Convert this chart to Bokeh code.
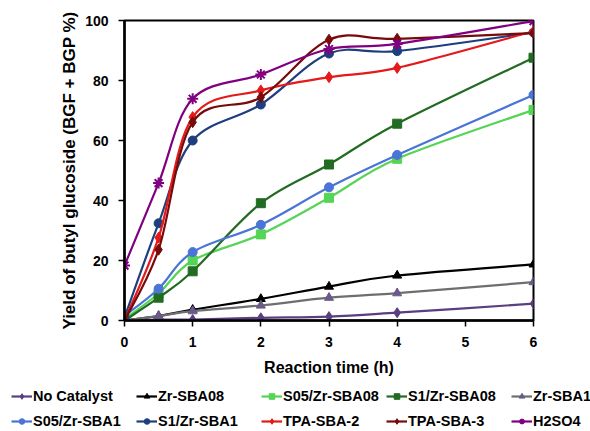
import numpy as np
from bokeh.plotting import figure
from bokeh.layouts import column
from bokeh.models import Range1d, Legend, LegendItem, ColumnDataSource, FixedTicker
from bokeh.embed import file_html
from bokeh.resources import INLINE

time_h = [0, 0.5, 1, 2, 3, 4, 6]

no_catalyst = [0, 0.3, 0.3, 0.9, 1.3, 2.6, 5.6]
zr_sba08 = [0, 1.5, 3.6, 7.2, 11.3, 15.0, 18.7]
s05_zr_sba08 = [0.5, 9.0, 20.0, 28.7, 40.9, 53.9, 70.2]
s1_zr_sba08 = [0, 7.6, 16.4, 39.1, 52.0, 65.6, 87.6]
zr_sba1 = [0, 1.5, 3.1, 5.0, 7.6, 9.1, 12.8]
s05_zr_sba1 = [1.5, 10.6, 22.8, 31.9, 44.4, 55.2, 75.2]
s1_zr_sba1 = [1.0, 32.4, 60.0, 72.0, 89.0, 89.8, 96.0]
tpa_sba2 = [0, 27.6, 67.8, 76.7, 81.1, 84.2, 96.4]
tpa_sba3 = [0, 23.6, 66.1, 74.4, 93.6, 93.9, 95.8]
h2so4 = [18.3, 45.8, 73.9, 82.0, 90.5, 92.2, 99.8]

x_ticks = [0, 1, 2, 3, 4, 5, 6]
y_ticks = [0, 20, 40, 60, 80, 100]

series = [
    ("No Catalyst", no_catalyst, "#5a3f80", "#5a3f80", "diamond", 10),
    ("Zr-SBA08", zr_sba08, "#000000", "#000000", "triangle", 9),
    ("S05/Zr-SBA08", s05_zr_sba08, "#55d455", "#55d455", "square", 9),
    ("S1/Zr-SBA08", s1_zr_sba08, "#226b22", "#226b22", "square", 9),
    ("Zr-SBA1", zr_sba1, "#6e6e6e", "#6a5a88", "triangle", 9),
    ("S05/Zr-SBA1", s05_zr_sba1, "#4a74d6", "#4a74d6", "circle", 9),
    ("S1/Zr-SBA1", s1_zr_sba1, "#1f3e7e", "#1f3e7e", "circle", 9),
    ("TPA-SBA-2", tpa_sba2, "#e41a1a", "#e41a1a", "diamond", 11),
    ("TPA-SBA-3", tpa_sba3, "#780a0a", "#780a0a", "diamond", 11),
    ("H2SO4", h2so4, "#800080", "#800080", "asterisk", 11),
]
legend_rows = [["No Catalyst", "Zr-SBA08", "S05/Zr-SBA08", "S1/Zr-SBA08", "Zr-SBA1"],
               ["S05/Zr-SBA1", "S1/Zr-SBA1", "TPA-SBA-2", "TPA-SBA-3", "H2SO4"]]

W = 590
H_MAIN = 386
H_LEG = 45
FONT = "Liberation Sans"

p = figure(width=W, height=H_MAIN, output_backend="svg", toolbar_location=None,
           x_range=Range1d(0, 6), y_range=Range1d(0, 100),
           min_border_left=124, min_border_right=57, min_border_top=20, min_border_bottom=66)
p.frame_align = False
p.xgrid.visible = False
p.ygrid.visible = False
p.outline_line_color = "black"
p.outline_line_width = 2
p.outline_line_alpha = 1
p.background_fill_color = "white"
p.border_fill_color = "white"

for ax in (p.xaxis[0], p.yaxis[0]):
    ax.axis_line_color = "black"
    ax.axis_line_width = 2.5
    ax.major_tick_line_color = "black"
    ax.major_tick_line_width = 1.5
    ax.major_tick_out = 6
    ax.major_tick_in = 0
    ax.minor_tick_line_color = None
    ax.major_label_text_font = FONT
    ax.major_label_text_font_style = "bold"
    ax.major_label_text_font_size = "14px"
    ax.major_label_text_color = "black"
    ax.axis_label_text_font = FONT
    ax.axis_label_text_font_style = "bold"
    ax.axis_label_text_color = "black"

p.xaxis.ticker = FixedTicker(ticks=x_ticks)
p.yaxis.ticker = FixedTicker(ticks=y_ticks)
p.xaxis.axis_label = "Reaction time (h)"
p.xaxis.axis_label_text_font_size = "16px"
p.xaxis.axis_label_standoff = 9
p.xaxis.major_label_standoff = 10
p.yaxis.axis_label = "Yield of butyl glucoside (BGF + BGP %)"
p.yaxis.axis_label_text_font_size = "17px"
p.yaxis.axis_label_standoff = 3
p.yaxis.major_label_standoff = 10


def bezier_src(xs, ys):
    xs = np.asarray(xs, float)
    ys = np.asarray(ys, float)
    n = len(xs)
    xp = np.concatenate([[xs[0]], xs, [xs[-1]]])
    yp = np.concatenate([[ys[0]], ys, [ys[-1]]])
    d = dict(x0=[], y0=[], x1=[], y1=[], cx0=[], cy0=[], cx1=[], cy1=[])
    for i in range(n - 1):
        j = i + 1
        d["x0"].append(xp[j]); d["y0"].append(yp[j])
        d["x1"].append(xp[j + 1]); d["y1"].append(yp[j + 1])
        d["cx0"].append(xp[j] + (xp[j + 1] - xp[j - 1]) / 6)
        d["cy0"].append(yp[j] + (yp[j + 1] - yp[j - 1]) / 6)
        d["cx1"].append(xp[j + 1] - (xp[j + 2] - xp[j]) / 6)
        d["cy1"].append(yp[j + 1] - (yp[j + 2] - yp[j]) / 6)
    return ColumnDataSource(d)


for name, vals, lc, mc, marker, size in series:
    p.bezier(x0="x0", y0="y0", x1="x1", y1="y1", cx0="cx0", cy0="cy0",
             cx1="cx1", cy1="cy1", source=bezier_src(time_h, vals),
             line_color=lc, line_width=2.2)
    if marker == "asterisk":
        p.scatter(time_h, vals, marker=marker, size=size, line_color=mc, line_width=2)
    else:
        p.scatter(time_h, vals, marker=marker, size=size, fill_color=mc, line_color=mc)

# legend strip (a separate figure whose frame covers the whole strip)
lg_fig = figure(width=W, height=H_LEG, output_backend="svg", toolbar_location=None,
                x_range=Range1d(0, 1), y_range=Range1d(0, 1),
                x_axis_location=None, y_axis_location=None,
                min_border=0, min_border_left=0, min_border_right=0,
                min_border_top=0, min_border_bottom=0)
lg_fig.frame_align = False
lg_fig.xgrid.visible = False
lg_fig.ygrid.visible = False
lg_fig.outline_line_color = None
lg_fig.background_fill_color = "white"
lg_fig.border_fill_color = "white"

proxies = {}
for name, vals, lc, mc, marker, size in series:
    rl = lg_fig.line(x=[np.nan], y=[np.nan], line_color=lc, line_width=2.2)
    if marker == "asterisk":
        rm = lg_fig.scatter(x=[np.nan], y=[np.nan], marker=marker, size=size,
                            line_color=mc, line_width=2)
    else:
        rm = lg_fig.scatter(x=[np.nan], y=[np.nan], marker=marker, size=size,
                            fill_color=mc, line_color=mc)
    proxies[name] = [rl, rm]

row_y = [27, 2]
for ry, names in zip(row_y, legend_rows):
    items = [LegendItem(label=n, renderers=proxies[n]) for n in names]
    lg = Legend(items=items, location=(11, ry), orientation="horizontal",
                label_text_font=FONT, label_text_font_style="bold",
                label_text_font_size="14.5px", label_text_color="black",
                glyph_width=21, glyph_height=14, label_height=14, label_width=103,
                label_standoff=1, spacing=0, padding=0, margin=0,
                border_line_color=None, background_fill_alpha=0)
    lg_fig.add_layout(lg, "center")

layout = column(p, lg_fig, spacing=0)
open("out.html", "w").write(file_html(layout, INLINE))
